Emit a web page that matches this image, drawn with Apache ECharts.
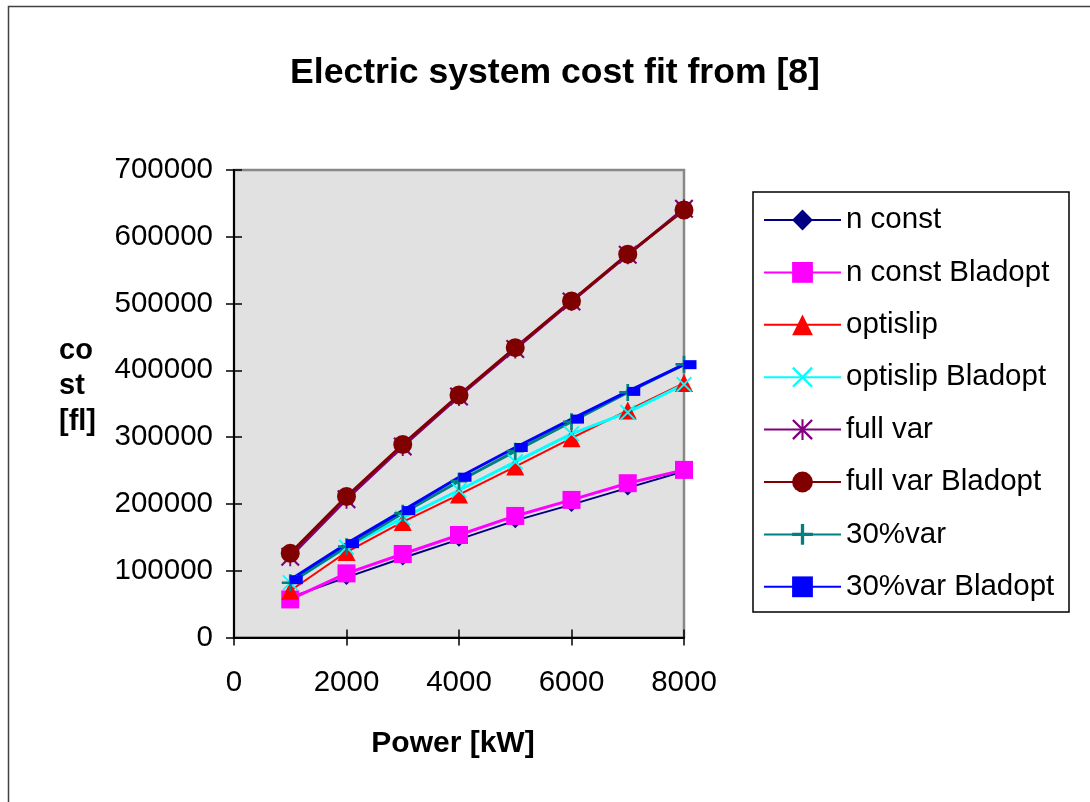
<!DOCTYPE html>
<html>
<head>
<meta charset="utf-8">
<script src="https://cdn.jsdelivr.net/npm/echarts@6/dist/echarts.min.js"></script>
<style>
html,body{margin:0;padding:0;background:#fff;}
#chart{width:1090px;height:802px;}
</style>
</head>
<body>
<div id="chart"></div>
<script>
// ---- data ----
const powerKW = [1000, 2000, 3000, 4000, 5000, 6000, 7000, 8000];
const nConst = [60000, 90000, 119000, 147000, 175000, 199000, 224000, 249000];
const nConstBladopt = [57000, 96000, 125000, 153500, 182000, 206000, 231000, 251000];
const optislip = [70000, 128000, 173000, 214000, 256000, 298500, 340000, 381000];
const optislipBladopt = [82000, 135000, 179000, 220500, 263000, 305000, 337000, 379000];
const fullVar = [121000, 207000, 286000, 361000, 432000, 503000, 573000, 642000];
const fullVarBladopt = [126000, 211000, 289000, 363000, 434000, 504000, 574000, 640000];
const var30 = [82000, 136000, 186000, 234000, 279000, 323000, 367000, 409000];
const var30Bladopt = [86500, 140500, 190000, 240000, 284500, 327000, 368500, 408500];
const seriesNames = ['n const', 'n const Bladopt', 'optislip', 'optislip Bladopt',
  'full var', 'full var Bladopt', '30%var', '30%var Bladopt'];
const xTicks = [0, 2000, 4000, 6000, 8000];
const yTicks = [0, 100000, 200000, 300000, 400000, 500000, 600000, 700000];

const FONT = 'Liberation Sans, Arial, sans-serif';
const X_PATH = 'path://M0 8 L8 0 L100 92 L92 100 Z M92 0 L100 8 L8 100 L0 92 Z';
const PLUS_PATH = 'path://M42 0 L58 0 L58 42 L100 42 L100 58 L58 58 L58 100 L42 100 L42 58 L0 58 L0 42 L42 42 Z';
const STAR_PATH = 'path://M0 8 L8 0 L100 92 L92 100 Z M92 0 L100 8 L8 100 L0 92 Z M45 0 L55 0 L55 100 L45 100 Z';

function pairs(ys) { return powerKW.map((x, i) => [x, ys[i]]); }

const styles = [
  { data: nConst, color: '#000080', symbol: 'diamond', size: 15, width: 2 },
  { data: nConstBladopt, color: '#FF00FF', symbol: 'rect', size: 18, width: 3 },
  { data: optislip, color: '#FF0000', symbol: 'triangle', size: 18, width: 2 },
  { data: optislipBladopt, color: '#00FFFF', symbol: X_PATH, size: 16, width: 3 },
  { data: fullVar, color: '#800080', symbol: STAR_PATH, size: 19, width: 3 },
  { data: fullVarBladopt, color: '#800000', symbol: 'circle', size: 19, width: 3 },
  { data: var30, color: '#008080', symbol: PLUS_PATH, size: 17, width: 3 },
  { data: var30Bladopt, color: '#0000FF', symbol: 'rect', size: [13, 9], width: 3, offset: [6, 0] }
];

const series = styles.map((s, i) => ({
  name: seriesNames[i],
  type: 'line',
  data: pairs(s.data),
  symbol: s.symbol,
  symbolSize: s.size,
  symbolOffset: s.offset || [0, 0],
  showAllSymbol: true,
  animation: false,
  color: s.color,
  lineStyle: { color: s.color, width: s.width },
  itemStyle: { color: s.color, borderWidth: 0 },
  emphasis: { disabled: true },
  clip: false
}));

const chart = echarts.init(document.getElementById('chart'), null, { renderer: 'canvas' });
chart.setOption({
  animation: false,
  backgroundColor: '#ffffff',
  title: {
    text: 'Electric system cost fit from [8]',
    left: 550,
    top: 50,
    textAlign: 'center',
    textStyle: { fontFamily: FONT, fontSize: 35.6, fontWeight: 'bold', color: '#000' }
  },
  grid: {
    left: 234, right: 406, top: 170, bottom: 164.5,
    show: true, backgroundColor: '#e1e1e1', borderColor: '#888888', borderWidth: 2.5
  },
  legend: {
    orient: 'vertical',
    left: 763,
    top: 205,
    padding: 0,
    itemWidth: 77,
    itemHeight: 26,
    itemGap: 22.4,
    data: seriesNames,
    selectedMode: false,
    textStyle: { fontFamily: FONT, fontSize: 29.5, color: '#000', lineHeight: 30 }
  },
  xAxis: [{
    type: 'value', min: 0, max: 8000, interval: 2000,
    name: 'Power [kW]', nameLocation: 'middle', nameGap: 91,
    nameTextStyle: { fontFamily: FONT, fontSize: 30, fontWeight: 'bold', color: '#000', padding: [0, 12, 0, 0] },
    axisLine: { show: true, lineStyle: { color: '#000', width: 2 } },
    axisTick: { show: true, inside: false, length: 8, lineStyle: { color: '#000', width: 1.5 } },
    axisLabel: { fontFamily: FONT, fontSize: 29.5, color: '#000', margin: 30,
      formatter: v => xTicks.includes(v) ? String(v) : '' },
    splitLine: { show: false }
  }, {
    type: 'value', min: 0, max: 8000, interval: 2000, position: 'bottom',
    axisLine: { show: false },
    axisTick: { show: true, inside: true, length: 8, lineStyle: { color: '#000', width: 1.5 } },
    axisLabel: { show: false }, splitLine: { show: false }
  }],
  yAxis: [{
    type: 'value', min: 0, max: 700000, interval: 100000,
    name: 'co\nst\n[fl]\n', nameLocation: 'middle', nameRotate: 0, nameGap: 175,
    nameTextStyle: { fontFamily: FONT, fontSize: 29, fontWeight: 'bold', color: '#000',
      align: 'left', lineHeight: 35.5 },
    axisLine: { show: true, lineStyle: { color: '#000', width: 2 } },
    axisTick: { show: true, inside: false, length: 8, lineStyle: { color: '#000', width: 1.5 } },
    axisLabel: { fontFamily: FONT, fontSize: 29.5, color: '#000', margin: 21,
      formatter: v => yTicks.includes(v) ? String(v) : '' },
    splitLine: { show: false }
  }, {
    type: 'value', min: 0, max: 700000, interval: 100000, position: 'left',
    axisLine: { show: false },
    axisTick: { show: true, inside: true, length: 8, lineStyle: { color: '#000', width: 1.5 } },
    axisLabel: { show: false }, splitLine: { show: false }
  }],
  graphic: [
    { type: 'rect', silent: true, z: -1,
      shape: { x: 8.5, y: 6.5, width: 1200, height: 900 },
      style: { fill: 'none', stroke: '#404040', lineWidth: 1.5 } },
    { type: 'rect', silent: true,
      shape: { x: 753, y: 192, width: 316, height: 420 },
      style: { fill: 'none', stroke: '#000', lineWidth: 1.5 } }
  ],
  series: series
});
</script>
</body>
</html>
